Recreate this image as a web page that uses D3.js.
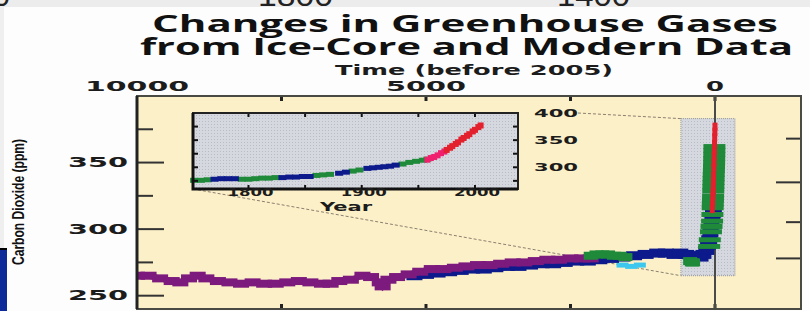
<!doctype html>
<html lang="en">
<head>
<meta charset="UTF-8">
<title>Changes in Greenhouse Gases from Ice-Core and Modern Data</title>
<style>
  body { margin: 0; background: #fdfdfd; }
  svg { display: block; }
  .heavy { font-family: "DejaVu Sans", sans-serif; font-weight: bold; fill: #1c1c1c; }
</style>
</head>
<body>
<div id="chart"></div>
<script src="https://d3js.org/d3.v7.min.js"></script>
<script>
// main panel: [years before 2005, CO2 ppm]
const purpleCore = [[10000,265],[9800,265],[9600,263],[9400,261],[9250,260],[9100,263],[8950,265],[8800,263],[8600,261],
  [8400,260],[8200,259],[8000,260],[7800,259],[7600,259],[7400,260],[7200,261],[7000,260],[6800,259],[6650,259],
  [6500,261],[6300,262],[6100,265],[5950,264],[5800,260],[5750,257],[5650,262],[5500,264],[5300,266],[5100,268],
  [4900,270],[4700,270],[4500,271],[4300,272],[4100,273],[3900,273],[3700,274],[3500,275],[3300,275],[3100,276],
  [2900,277],[2700,277],[2500,278],[2300,278],[2150,278]]
const blueCore = [[5200,265],[5000,266],[4800,267],[4600,268],[4400,269],[4200,270],[4000,270],[3800,271],[3600,272],
  [3400,272],[3200,273],[3000,274],[2800,274],[2600,275],[2400,276],[2200,276],[2000,277],[1800,278],[1600,279],
  [1400,280],[1200,281],[1000,282],[850,282],[700,281],[600,282],[500,281],[400,280],[300,280],[250,279],[200,281],
  [150,284],[120,288],[100,292],[80,297],[60,303],[45,308],[35,312],[20,316]]
const greenCore = [[2150,280],[2050,281],[1950,281],[1850,281],[1750,280],[1650,280],[1550,279],[430,276],[400,275],
  [380,275]]
const greenModern = [[10,362],[11,359],[12,356],[14,353],[15,350],[17,347],[19,344],[22,341],[24,338],[26,335],
  [28,332],[30,329],[33,325],[35,322],[38,319],[40,316],[45,311],[50,306],[60,302],[70,298],[90,292],[100,287]]
const cyanCore = [[1600,273],[1450,272],[1300,273]]
const redModern = [[47,315],[44,318],[40,321],[37,325],[34,328],[30,332],[27,336],[24,340],[20,346],[17,350],
  [14,355],[11,359],[8,364],[5,369],[2,373],[0,377]]

// inset: [year AD, CO2 ppm]
const insetBlue = [[1770,278],[1776,279],[1782,279],[1788,279],[1830,281],[1836,282],[1842,282],[1848,283],[1854,283],
  [1880,289],[1886,291],[1905,298],[1910,299],[1915,300],[1920,301],[1925,302],[1930,304]]
const insetGreen = [[1752,276],[1758,276],[1764,277],[1794,278],[1800,278],[1806,279],[1812,280],[1818,280],[1824,281],
  [1860,285],[1866,286],[1872,287],[1892,293],[1898,295],[1936,306],[1942,309],[1948,311],[1954,313],[1958,315]]
const insetPink = [[1958,314],[1961,317],[1964,319],[1967,322],[1970,326],[1973,329]]
const insetRed = [[1975,332],[1978,336],[1980,339],[1983,343],[1985,346],[1988,351],[1990,354],[1993,358],
  [1995,361],[1998,366],[2000,369],[2003,374],[2005,377]]

const timeLabels = [10000, 5000, 0]
const timeTicks = [7500, 5000, 2500, 0]
const co2Major = [250, 300, 350]
const co2Minor = [275, 325, 375]
const forcingTicks = [0, 0.5, 1.0, 1.5]
const insetYears = [1800, 1900, 2000]
const insetYearTicks = [1800, 1850, 1900, 1950, 2000]
const insetCo2Labels = [400, 350, 300]
const insetCo2Ticks = [275, 300, 325, 350, 375]
const zoomBox = {years: [590, -345], co2: [265, 383]}

const width = 810
const height = 311

const svg = d3.select('#chart').append('svg')
  .attr('width', width)
  .attr('height', height)

const defs = svg.append('defs')
const stip = defs.append('pattern')
  .attr('id', 'stip')
  .attr('width', 3).attr('height', 3)
  .attr('patternUnits', 'userSpaceOnUse')
stip.append('rect').attr('width', 3).attr('height', 3).attr('fill', '#d6d8df')
stip.append('rect').attr('x', 1).attr('y', 1).attr('width', 1).attr('height', 1).attr('fill', '#b9bcc6')

defs.append('clipPath').attr('id', 'strip')
  .append('rect').attr('width', width).attr('height', 7)

// page chrome around the figure
svg.append('rect').attr('width', width).attr('height', 7).attr('fill', '#ececec')
svg.append('g').attr('clip-path', 'url(#strip)')
  .selectAll('text')
  .data([['1800', 258, 75], ['1400', 557, 73], ['00', -24, 34]])
  .join('text')
  .attr('x', d => d[1])
  .attr('y', 6)
  .attr('textLength', d => d[2])
  .attr('lengthAdjust', 'spacingAndGlyphs')
  .style('font-family', '"Liberation Sans", sans-serif')
  .style('font-size', '30px')
  .style('fill', '#222')
  .text(d => d[0])
svg.append('rect').attr('x', 0).attr('y', 7).attr('width', 4).attr('height', 241).attr('fill', '#efefef')
svg.append('rect').attr('x', 0).attr('y', 248).attr('width', 7).attr('height', 63).attr('fill', '#0c2a98')
svg.append('line').attr('x1', 0).attr('x2', 7).attr('y1', 249).attr('y2', 249)
  .attr('stroke', '#000').attr('stroke-width', 2)

// titles
svg.append('text')
  .attr('x', 152).attr('y', 32)
  .attr('textLength', 626).attr('lengthAdjust', 'spacingAndGlyphs')
  .style('font-family', '"Open Sans", sans-serif').style('font-weight', 700).style('font-size', '24px')
  .style('fill', '#111')
  .text('Changes in Greenhouse Gases')
svg.append('text')
  .attr('x', 140).attr('y', 55)
  .attr('textLength', 653).attr('lengthAdjust', 'spacingAndGlyphs')
  .style('font-family', '"Open Sans", sans-serif').style('font-weight', 700).style('font-size', '24px')
  .style('fill', '#111')
  .text('from Ice-Core and Modern Data')
svg.append('text')
  .attr('class', 'heavy')
  .attr('x', 335).attr('y', 75)
  .attr('textLength', 278).attr('lengthAdjust', 'spacingAndGlyphs')
  .style('font-size', '14px')
  .text('Time (before 2005)')

// main scales
const x = d3.scaleLinear().domain([10000, -1488]).range([137, 801])
const y = d3.scaleLinear().domain([240, 400]).range([309, 96])
const [x0, x1] = x.range()
const [yb, yt] = y.range()

defs.append('clipPath').attr('id', 'plot')
  .append('rect').attr('x', x0).attr('y', yt).attr('width', x1 - x0).attr('height', yb - yt)

svg.append('rect')
  .attr('x', x0).attr('y', yt)
  .attr('width', x1 - x0).attr('height', yb - yt)
  .attr('fill', '#fcf0c8')

// top labels
const labelLen = {10000: 104, 5000: 80, 0: 18}
svg.append('g').selectAll('text')
  .data(timeLabels)
  .join('text')
  .attr('class', 'heavy')
  .attr('x', d => x(d))
  .attr('y', 91)
  .attr('text-anchor', 'middle')
  .attr('textLength', d => labelLen[d])
  .attr('lengthAdjust', 'spacingAndGlyphs')
  .style('font-size', '14px')
  .text(d => d)

// left labels
svg.append('g').selectAll('text')
  .data(co2Major)
  .join('text')
  .attr('class', 'heavy')
  .attr('x', 128)
  .attr('y', d => y(d) + 4.5)
  .attr('text-anchor', 'end')
  .attr('textLength', 60)
  .attr('lengthAdjust', 'spacingAndGlyphs')
  .style('font-size', '14px')
  .text(d => d)

svg.append('text')
  .attr('transform', 'translate(24, 202) rotate(-90)')
  .attr('text-anchor', 'middle')
  .attr('textLength', 126)
  .attr('lengthAdjust', 'spacingAndGlyphs')
  .style('font-family', '"Liberation Sans", sans-serif')
  .style('font-weight', 700)
  .style('font-size', '16px')
  .style('fill', '#111')
  .text('Carbon Dioxide (ppm)')

// ticks
const ticks = svg.append('g').attr('stroke', '#333')
ticks.selectAll('.maj')
  .data(co2Major).join('line')
  .attr('x1', x0).attr('x2', x0 + 27)
  .attr('y1', d => y(d)).attr('y2', d => y(d))
  .attr('stroke-width', 2)
ticks.selectAll('.min')
  .data(co2Minor).join('line').attr('class', 'min')
  .attr('x1', x0).attr('x2', x0 + 16)
  .attr('y1', d => y(d)).attr('y2', d => y(d))
  .attr('stroke-width', 2)
// radiative forcing on the right (log of CO2)
ticks.selectAll('.rf')
  .data(forcingTicks).join('line').attr('class', 'rf')
  .attr('x1', x1).attr('x2', d => x1 - (d % 1 === 0 ? 25 : 15))
  .attr('y1', d => y(278 * Math.exp(d / 5.35)))
  .attr('y2', d => y(278 * Math.exp(d / 5.35)))
  .attr('stroke-width', 2)
ticks.selectAll('.tt')
  .data(timeTicks).join('line').attr('class', 'tt')
  .attr('x1', d => x(d)).attr('x2', d => x(d))
  .attr('y1', yt).attr('y2', yt + 5)
  .attr('stroke-width', 3).attr('stroke', '#222')
ticks.selectAll('.bt')
  .data(timeTicks).join('line').attr('class', 'bt')
  .attr('x1', d => x(d)).attr('x2', d => x(d))
  .attr('y1', yb).attr('y2', yb - 5)
  .attr('stroke-width', 3).attr('stroke', '#222')

// zoom box and connectors
const bx0 = x(zoomBox.years[0]), bx1 = x(zoomBox.years[1])
const by0 = y(zoomBox.co2[1]), by1 = y(zoomBox.co2[0])
svg.append('rect')
  .attr('x', bx0).attr('y', by0)
  .attr('width', bx1 - bx0).attr('height', by1 - by0)
  .attr('fill', 'url(#stip)')
  .attr('stroke', '#8f929a').attr('stroke-width', 1).attr('stroke-dasharray', '1,1')

// inset scales
const xi = d3.scaleLinear().domain([1751, 2038]).range([193, 518])
const yi = d3.scaleLinear().domain([260, 400]).range([189, 113])

svg.append('g')
  .attr('fill', 'none').attr('stroke', '#8a8070').attr('stroke-width', 1).attr('stroke-dasharray', '3,2')
  .selectAll('line')
  .data([[578, yi(400), bx0, by0], [xi.range()[0], yi(260), bx0, by1]])
  .join('line')
  .attr('x1', d => d[0]).attr('y1', d => d[1])
  .attr('x2', d => d[2]).attr('y2', d => d[3])

// zero line
svg.append('line')
  .attr('x1', x(0)).attr('x2', x(0))
  .attr('y1', yt).attr('y2', yb)
  .attr('stroke', '#4a4a4a').attr('stroke-width', 2)

const plot = svg.append('g').attr('clip-path', 'url(#plot)')

function marks (parent, data, xs, ys, color, w, h, band) {
  const g = parent.append('g')
  if (band) {
    g.append('path')
      .datum(data)
      .attr('fill', 'none')
      .attr('stroke', color)
      .attr('stroke-width', band)
      .attr('d', d3.line().x(d => xs(d[0])).y(d => ys(d[1])))
  }
  g.selectAll('rect')
    .data(data)
    .join('rect')
    .attr('x', d => xs(d[0]) - w / 2)
    .attr('y', d => ys(d[1]) - h / 2)
    .attr('width', w)
    .attr('height', h)
    .attr('fill', color)
}

marks(plot, cyanCore, x, y, '#3cc8ee', 12, 5)
marks(plot, blueCore, x, y, '#0d1a8c', 16, 9, 7)
marks(plot, purpleCore, x, y, '#7d1a7d', 16, 8, 6)
marks(plot, greenCore, x, y, '#1f8a3a', 14, 8)
marks(plot, greenModern, x, y, '#1f8a3a', 22, 5)
marks(plot, redModern, x, y, '#e3202d', 5, 8)

// frame
svg.append('rect')
  .attr('x', x0).attr('y', yt)
  .attr('width', x1 - x0).attr('height', yb - yt)
  .attr('fill', 'none').attr('stroke', '#4a4a44').attr('stroke-width', 2)
svg.append('line')
  .attr('x1', x0).attr('x2', x0).attr('y1', yt).attr('y2', yb)
  .attr('stroke', '#222').attr('stroke-width', 3)

// inset
const [ix0, ix1] = xi.range()
const [iyb, iyt] = yi.range()
svg.append('rect')
  .attr('x', ix0).attr('y', iyt)
  .attr('width', ix1 - ix0).attr('height', iyb - iyt)
  .attr('fill', 'url(#stip)')

marks(svg, insetGreen, xi, yi, '#1f8a3a', 8, 5)
marks(svg, insetBlue, xi, yi, '#0d1a8c', 8, 5)
marks(svg, insetPink, xi, yi, '#f0206e', 6, 6)
marks(svg, insetRed, xi, yi, '#e3202d', 6, 6)

const iticks = svg.append('g').attr('stroke', '#111').attr('stroke-width', 2)
iticks.selectAll('.a')
  .data(insetYearTicks).join('line').attr('class', 'a')
  .attr('x1', d => xi(d)).attr('x2', d => xi(d))
  .attr('y1', iyt).attr('y2', iyt + 4)
iticks.selectAll('.b')
  .data(insetYearTicks).join('line').attr('class', 'b')
  .attr('x1', d => xi(d)).attr('x2', d => xi(d))
  .attr('y1', iyb).attr('y2', iyb - 4)
iticks.selectAll('.c')
  .data(insetCo2Ticks).join('line').attr('class', 'c')
  .attr('x1', ix0).attr('x2', ix0 + 5)
  .attr('y1', d => yi(d)).attr('y2', d => yi(d))
iticks.selectAll('.d')
  .data(insetCo2Ticks).join('line').attr('class', 'd')
  .attr('x1', ix1).attr('x2', ix1 - 5)
  .attr('y1', d => yi(d)).attr('y2', d => yi(d))

svg.append('rect')
  .attr('x', ix0).attr('y', iyt)
  .attr('width', ix1 - ix0).attr('height', iyb - iyt)
  .attr('fill', 'none').attr('stroke', '#222').attr('stroke-width', 2)
svg.append('path')
  .attr('d', `M${ix0},${iyt}V${iyb}H${ix1}`)
  .attr('fill', 'none').attr('stroke', '#111').attr('stroke-width', 3)

svg.append('g').selectAll('text')
  .data(insetYears)
  .join('text')
  .attr('class', 'heavy')
  .attr('x', d => xi(d) + 2)
  .attr('y', iyb + 7)
  .attr('text-anchor', 'middle')
  .attr('textLength', 46)
  .attr('lengthAdjust', 'spacingAndGlyphs')
  .style('font-size', '10px')
  .text(d => d)

svg.append('text')
  .attr('class', 'heavy')
  .attr('x', 346).attr('y', 211)
  .attr('text-anchor', 'middle')
  .attr('textLength', 52)
  .attr('lengthAdjust', 'spacingAndGlyphs')
  .style('font-size', '12px')
  .text('Year')

svg.append('g').selectAll('text')
  .data(insetCo2Labels)
  .join('text')
  .attr('class', 'heavy')
  .attr('x', 534)
  .attr('y', d => yi(d) + 3.5)
  .attr('textLength', 44)
  .attr('lengthAdjust', 'spacingAndGlyphs')
  .style('font-size', '10px')
  .text(d => d)
</script>
</body>
</html>
